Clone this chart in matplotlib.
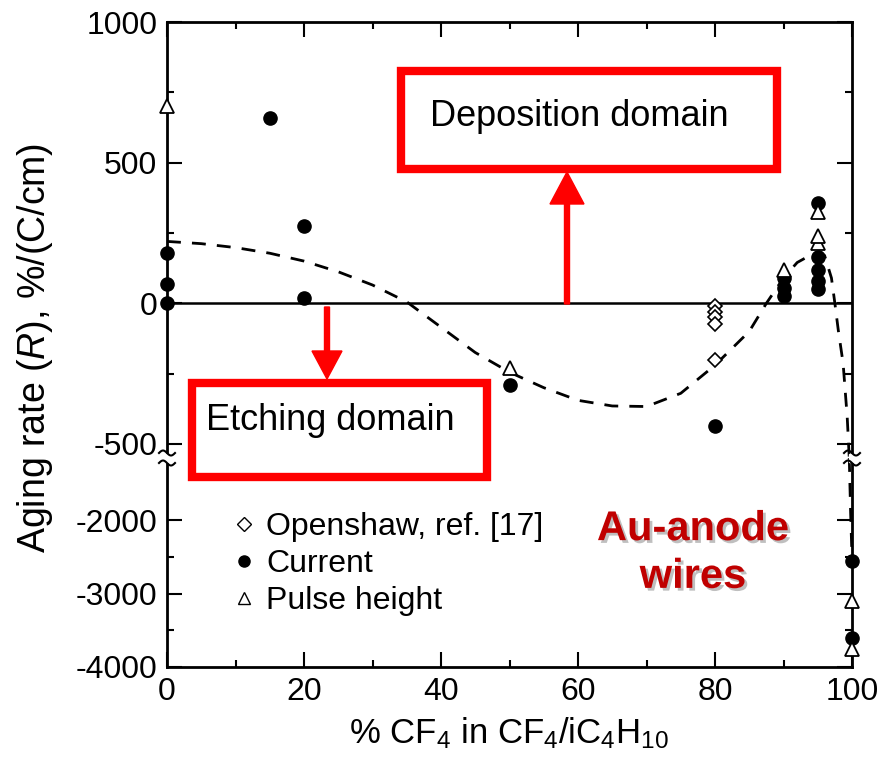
import numpy as np
import matplotlib.pyplot as plt
import matplotlib.patheffects as pe
from matplotlib.patches import Rectangle
from matplotlib.lines import Line2D

plt.rcParams['font.family'] = ['Liberation Sans', 'DejaVu Sans']
plt.rcParams['mathtext.fontset'] = 'custom'
plt.rcParams['mathtext.rm'] = 'Liberation Sans'
plt.rcParams['mathtext.it'] = 'Liberation Sans:italic'
plt.rcParams['mathtext.default'] = 'regular'
plt.rcParams['axes.unicode_minus'] = False

# Current (filled circles), upper and lower parts of the broken axis
cur_x_top = [0, 0, 0, 15, 20, 20, 50, 80, 90, 90, 90, 95, 95, 95, 95, 95]
cur_y_top = [180, 70, 0, 660, 275, 20, -290, -435, 90, 55, 25, 355, 165, 120, 80, 50]
cur_x_bot = [100, 100]
cur_y_bot = [-2560, -3600]

# Pulse height (open triangles)
pul_x_top = [0, 50, 90, 95, 95, 95]
pul_y_top = [700, -230, 120, 215, 240, 325]
pul_x_bot = [100, 100]
pul_y_bot = [-3100, -3750]

# Openshaw, ref. [17] (open diamonds)
ops_x = [80, 80, 80, 80, 80]
ops_y = [-10, -30, -50, -75, -200]

# dashed guide curve
fit_x_top = [0, 5, 10, 15, 20, 25, 30, 35, 40, 45, 50, 55, 60, 65, 70, 75, 80, 85,
             87.5, 90, 92, 94, 95, 96, 97, 97.5, 98, 98.7, 99.3, 99.6]
fit_y_top = [220, 212, 198, 178, 150, 112, 65, 5, -85, -175, -245, -300, -345, -365,
             -367, -320, -220, -100, 0, 90, 145, 172, 180, 170, 90, 0, -96, -213, -404, -550]
fit_x_bot = [99.6, 99.8, 100]
fit_y_bot = [-1150, -1900, -2500]

W, H = 884, 769
def fx(px):
    return px / W
def fy(py):
    return 1 - py / H

fig = plt.figure(figsize=(8.84, 7.69), dpi=100)
left, right = 167, 852
top, brk, bottom = 22, 458, 667
ax_top = fig.add_axes([fx(left), fy(brk), fx(right) - fx(left), fy(top) - fy(brk)])
ax_bot = fig.add_axes([fx(left), fy(bottom), fx(right) - fx(left), fy(brk) - fy(bottom)])

ms = 9.5
for ax, cx, cy, px_, py_ in [(ax_top, cur_x_top, cur_y_top, pul_x_top, pul_y_top),
                            (ax_bot, cur_x_bot, cur_y_bot, pul_x_bot, pul_y_bot)]:
    ax.plot(cx, cy, 'o', color='k', ms=ms, clip_on=False, zorder=4)
    ax.plot(px_, py_, '^', mfc='white', mec='k', mew=1.3, ms=ms + 1, clip_on=False, zorder=5)
ax_top.plot(ops_x, ops_y, 'D', mfc='white', mec='k', mew=1.2, ms=7, zorder=5)
ax_top.plot(fit_x_top, fit_y_top, '--', color='k', lw=2, dashes=(5, 4), clip_on=False, zorder=3)
ax_bot.plot(fit_x_bot, fit_y_bot, '--', color='k', lw=2, dashes=(5, 4), clip_on=False, zorder=3)
ax_top.axhline(0, color='k', lw=1.8, zorder=2)

ax_top.set_ylim(-550, 1000)
ax_bot.set_ylim(-4000, -1150)
ax_top.set_yticks([-500, 0, 500, 1000])
ax_top.set_yticks([-250, 250, 750], minor=True)
ax_bot.set_yticks([-4000, -3000, -2000])
ax_bot.set_yticks([-3500, -2500], minor=True)
for ax in (ax_top, ax_bot):
    ax.set_xlim(0, 100)
    ax.set_xticks([0, 20, 40, 60, 80, 100])
    ax.set_xticks([10, 30, 50, 70, 90], minor=True)
    ax.tick_params(which='both', direction='in', width=1.5, labelsize=23, right=True)
    ax.tick_params(which='major', length=11, pad=7)
    ax.tick_params(which='minor', length=5)
    for s in ax.spines.values():
        s.set_linewidth(2)
ax_top.tick_params(which='both', bottom=False, labelbottom=False, top=True)
ax_bot.tick_params(which='both', top=False)
ax_top.spines['bottom'].set_visible(False)
ax_bot.spines['top'].set_visible(False)

ax_bot.set_xlabel('% CF$_4$ in CF$_4$/iC$_4$H$_{10}$', fontsize=25, labelpad=6)
fig.text(fx(35), fy(348), 'Aging rate ($\\mathit{R}$), %/(C/cm)', rotation=90,
         ha='center', va='center', fontsize=27)

# overlay in pixel units for the annotations
ov = fig.add_axes([0, 0, 1, 1])
ov.set_xlim(0, W)
ov.set_ylim(H, 0)
ov.axis('off')

# break marks on the left and right spines
for xs in (left, right):
    ov.add_patch(Rectangle((xs - 3, brk - 4), 6, 8, color='white', zorder=6))
    t = np.linspace(-1, 1, 30)
    for y0 in (brk - 5, brk + 5):
        ov.plot(xs + 8 * t, y0 + 2.5 * np.sin(np.pi * t), color='k', lw=1.5, zorder=7)

# red boxes
ov.add_patch(Rectangle((401, 71), 376, 98, fill=False, ec='red', lw=6))
ov.add_patch(Rectangle((192, 383), 295, 94, fill=False, ec='red', lw=6))
ov.text(430, 117, 'Deposition domain', fontsize=26, va='center', ha='left')
ov.text(206, 420, 'Etching domain', fontsize=26, va='center', ha='left')

# red arrows
ov.arrow(567, 304, 0, -132, width=5, head_width=34, head_length=32,
         length_includes_head=True, color='red', zorder=5)
ov.arrow(327, 307, 0, 72, width=5, head_width=30, head_length=28,
         length_includes_head=True, color='red', zorder=5)

ov.text(693, 553, 'Au-anode\nwires', fontsize=30, fontweight='bold', color='#c00000',
        ha='center', va='center', linespacing=1.25,
        path_effects=[pe.withSimplePatchShadow(offset=(2, -2), shadow_rgbFace='gray', alpha=0.5)])

handles = [Line2D([], [], ls='none', marker='D', mfc='white', mec='k', ms=7),
           Line2D([], [], ls='none', marker='o', color='k', ms=8),
           Line2D([], [], ls='none', marker='^', mfc='white', mec='k', ms=9)]
labels = ['Openshaw, ref. [17]', 'Current', 'Pulse height']
ov.legend(handles, labels, loc='upper left', bbox_to_anchor=(fx(218), fy(496)),
          bbox_transform=fig.transFigure, frameon=False, fontsize=23,
          handlelength=0.6, handletextpad=0.4, labelspacing=0.22, borderpad=0)

fig.savefig('out.png', dpi=100)
